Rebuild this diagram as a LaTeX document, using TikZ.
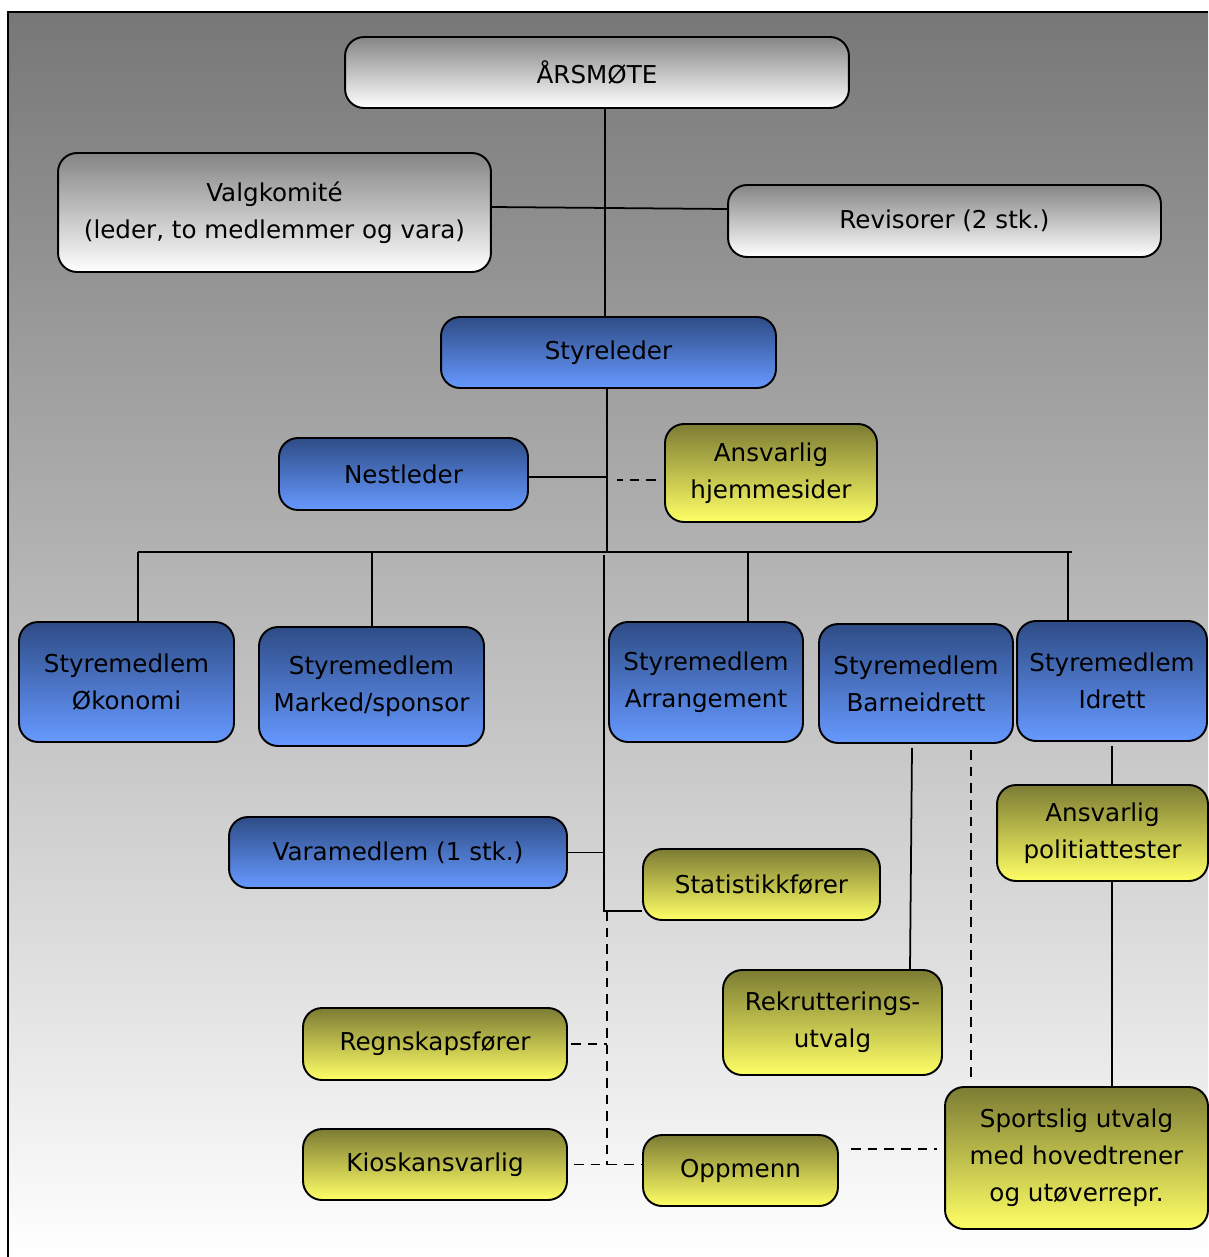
\documentclass[tikz,border=0pt]{standalone}
\usepackage{fontspec}
\setmainfont{DejaVu Sans}
\definecolor{bgtop}{HTML}{777777}
\definecolor{greytop}{HTML}{858585}
\definecolor{bluetop}{HTML}{2E4C86}
\definecolor{bluebot}{HTML}{6699FF}
\definecolor{yeltop}{HTML}{7C7C34}
\definecolor{yelbot}{HTML}{FFFF66}
\tikzset{
  org/.style={draw=black,line width=1.1pt,rounded corners=0.38cm,align=center,inner sep=0pt,font=\fontsize{14}{21}\selectfont},
  greybox/.style={org,top color=greytop,bottom color=white},
  bluebox/.style={org,top color=bluetop,bottom color=bluebot},
  yelbox/.style={org,top color=yeltop,bottom color=yelbot},
  link/.style={line width=1pt},
  dlink/.style={line width=1pt,dash pattern=on 5.5pt off 4pt},
}
\begin{document}
\begin{tikzpicture}[x=0.02cm,y=0.02cm]
  \useasboundingbox (0,0) rectangle (1208,-1257);
  % backdrop with frame on left and top
  \shade[top color=bgtop,bottom color=white] (8,-12) rectangle (1208,-1257);
  \draw[line width=1.1pt] (8,-1257) -- (8,-12) -- (1208,-12);
  % annual meeting level
  \node[greybox,minimum width=10.08cm,minimum height=1.42cm] (arsmote) at (597,-72.5) {ÅRSMØTE};
  \node[greybox,minimum width=8.66cm,minimum height=2.38cm] (valg) at (274.5,-212.5) {Valgkomité\\(leder, to medlemmer og vara)};
  \node[greybox,minimum width=8.66cm,minimum height=1.44cm] (revisor) at (944.5,-221) {Revisorer (2 stk.)};
  % board
  \node[bluebox,minimum width=6.7cm,minimum height=1.42cm] (leder) at (608.5,-352.5) {Styreleder};
  \node[bluebox,minimum width=4.98cm,minimum height=1.44cm] (nest) at (403.5,-474) {Nestleder};
  \node[yelbox,minimum width=4.24cm,minimum height=1.96cm] (hjem) at (771,-473) {Ansvarlig\\hjemmesider};
  \node[bluebox,minimum width=4.3cm,minimum height=2.4cm] (okonomi) at (126.5,-682) {Styremedlem\\Økonomi};
  \node[bluebox,minimum width=4.5cm,minimum height=2.38cm] (marked) at (371.5,-686.5) {Styremedlem\\Marked/sponsor};
  \node[bluebox,minimum width=3.88cm,minimum height=2.4cm] (arr) at (706,-682) {Styremedlem\\Arrangement};
  \node[bluebox,minimum width=3.88cm,minimum height=2.38cm] (barn) at (916,-683.5) {Styremedlem\\Barneidrett};
  \node[bluebox,minimum width=3.8cm,minimum height=2.4cm] (idrett) at (1112,-681) {Styremedlem\\Idrett};
  \node[bluebox,minimum width=6.76cm,minimum height=1.42cm] (vara) at (398,-852.5) {Varamedlem (1 stk.)};
  % helpers
  \node[yelbox,minimum width=4.74cm,minimum height=1.42cm] (stat) at (761.5,-884.5) {Statistikkfører};
  \node[yelbox,minimum width=4.22cm,minimum height=1.92cm] (politi) at (1102.5,-833) {Ansvarlig\\politiattester};
  \node[yelbox,minimum width=4.38cm,minimum height=2.1cm] (rekrutt) at (832.5,-1022.5) {Rekrutterings-\\utvalg};
  \node[yelbox,minimum width=5.28cm,minimum height=1.44cm] (regnskap) at (435,-1044) {Regnskapsfører};
  \node[yelbox,minimum width=5.28cm,minimum height=1.42cm] (kiosk) at (435,-1164.5) {Kioskansvarlig};
  \node[yelbox,minimum width=3.9cm,minimum height=1.42cm] (oppmenn) at (740.5,-1170.5) {Oppmenn};
  \node[yelbox,minimum width=5.26cm,minimum height=2.84cm] (sport) at (1076.5,-1158) {Sportslig utvalg\\med hovedtrener\\og utøverrepr.};
  % trunk from the annual meeting
  \coordinate (trunk) at (605,0);
  \draw[link] (arsmote.south -| trunk) -- (leder.north -| trunk);
  \draw[link] ([yshift=0.11cm]valg.east) -- ([yshift=0.24cm]revisor.west);
  % board spine and bus
  \coordinate (spine) at (607,0);
  \coordinate (busL) at (138,-552);
  \coordinate (busR) at (1072,-552);
  \draw[link] (leder.south -| spine) -- (busL -| spine);
  \draw[link] ([yshift=-0.06cm]nest.east) -- ([yshift=-0.06cm]nest.east -| spine);
  \draw[dlink] ([xshift=-0.16cm,yshift=-0.14cm]hjem.west) -- ++(-0.78cm,0);
  \draw[link] (busL) -- (busR);
  \foreach \n/\x in {okonomi/138,marked/372,arr/748,idrett/1068}
    \draw[link] (\x,-552) -- (\n.north -| \x,0);
  % lower trunk
  \coordinate (lowknee) at (604,-911);
  \draw[link] (604,-555) -- (lowknee) -- (stat.west |- lowknee);
  \draw[link] (vara.east) -- (vara.east -| lowknee);
  \coordinate (dtop) at (607,-911);
  \coordinate (dbot) at (607,-1165);
  \draw[dlink] (dtop) -- (dbot);
  \draw[dlink] ([xshift=0.06cm]regnskap.east) -- (regnskap.east -| dtop);
  \draw[dlink] ([xshift=0.12cm]kiosk.east) -- (oppmenn.west |- kiosk.east);
  % sports side
  \draw[link] ([xshift=-0.08cm,yshift=-0.08cm]barn.south) -- (rekrutt.north -| 910,0);
  \coordinate (dsideT) at (971,-750);
  \coordinate (dsideB) at (971,-1078);
  \draw[dlink] (dsideT) -- (dsideB);
  \draw[link] ([yshift=-0.08cm]idrett.south) -- (politi.north -| idrett.south);
  \draw[link] (politi.south -| idrett.south) -- (sport.north -| idrett.south);
  \coordinate (ds) at (0,-1149);
  \draw[dlink] ([xshift=0.24cm]oppmenn.east |- ds) -- ([xshift=-0.14cm]sport.west |- ds);
\end{tikzpicture}
\end{document}
